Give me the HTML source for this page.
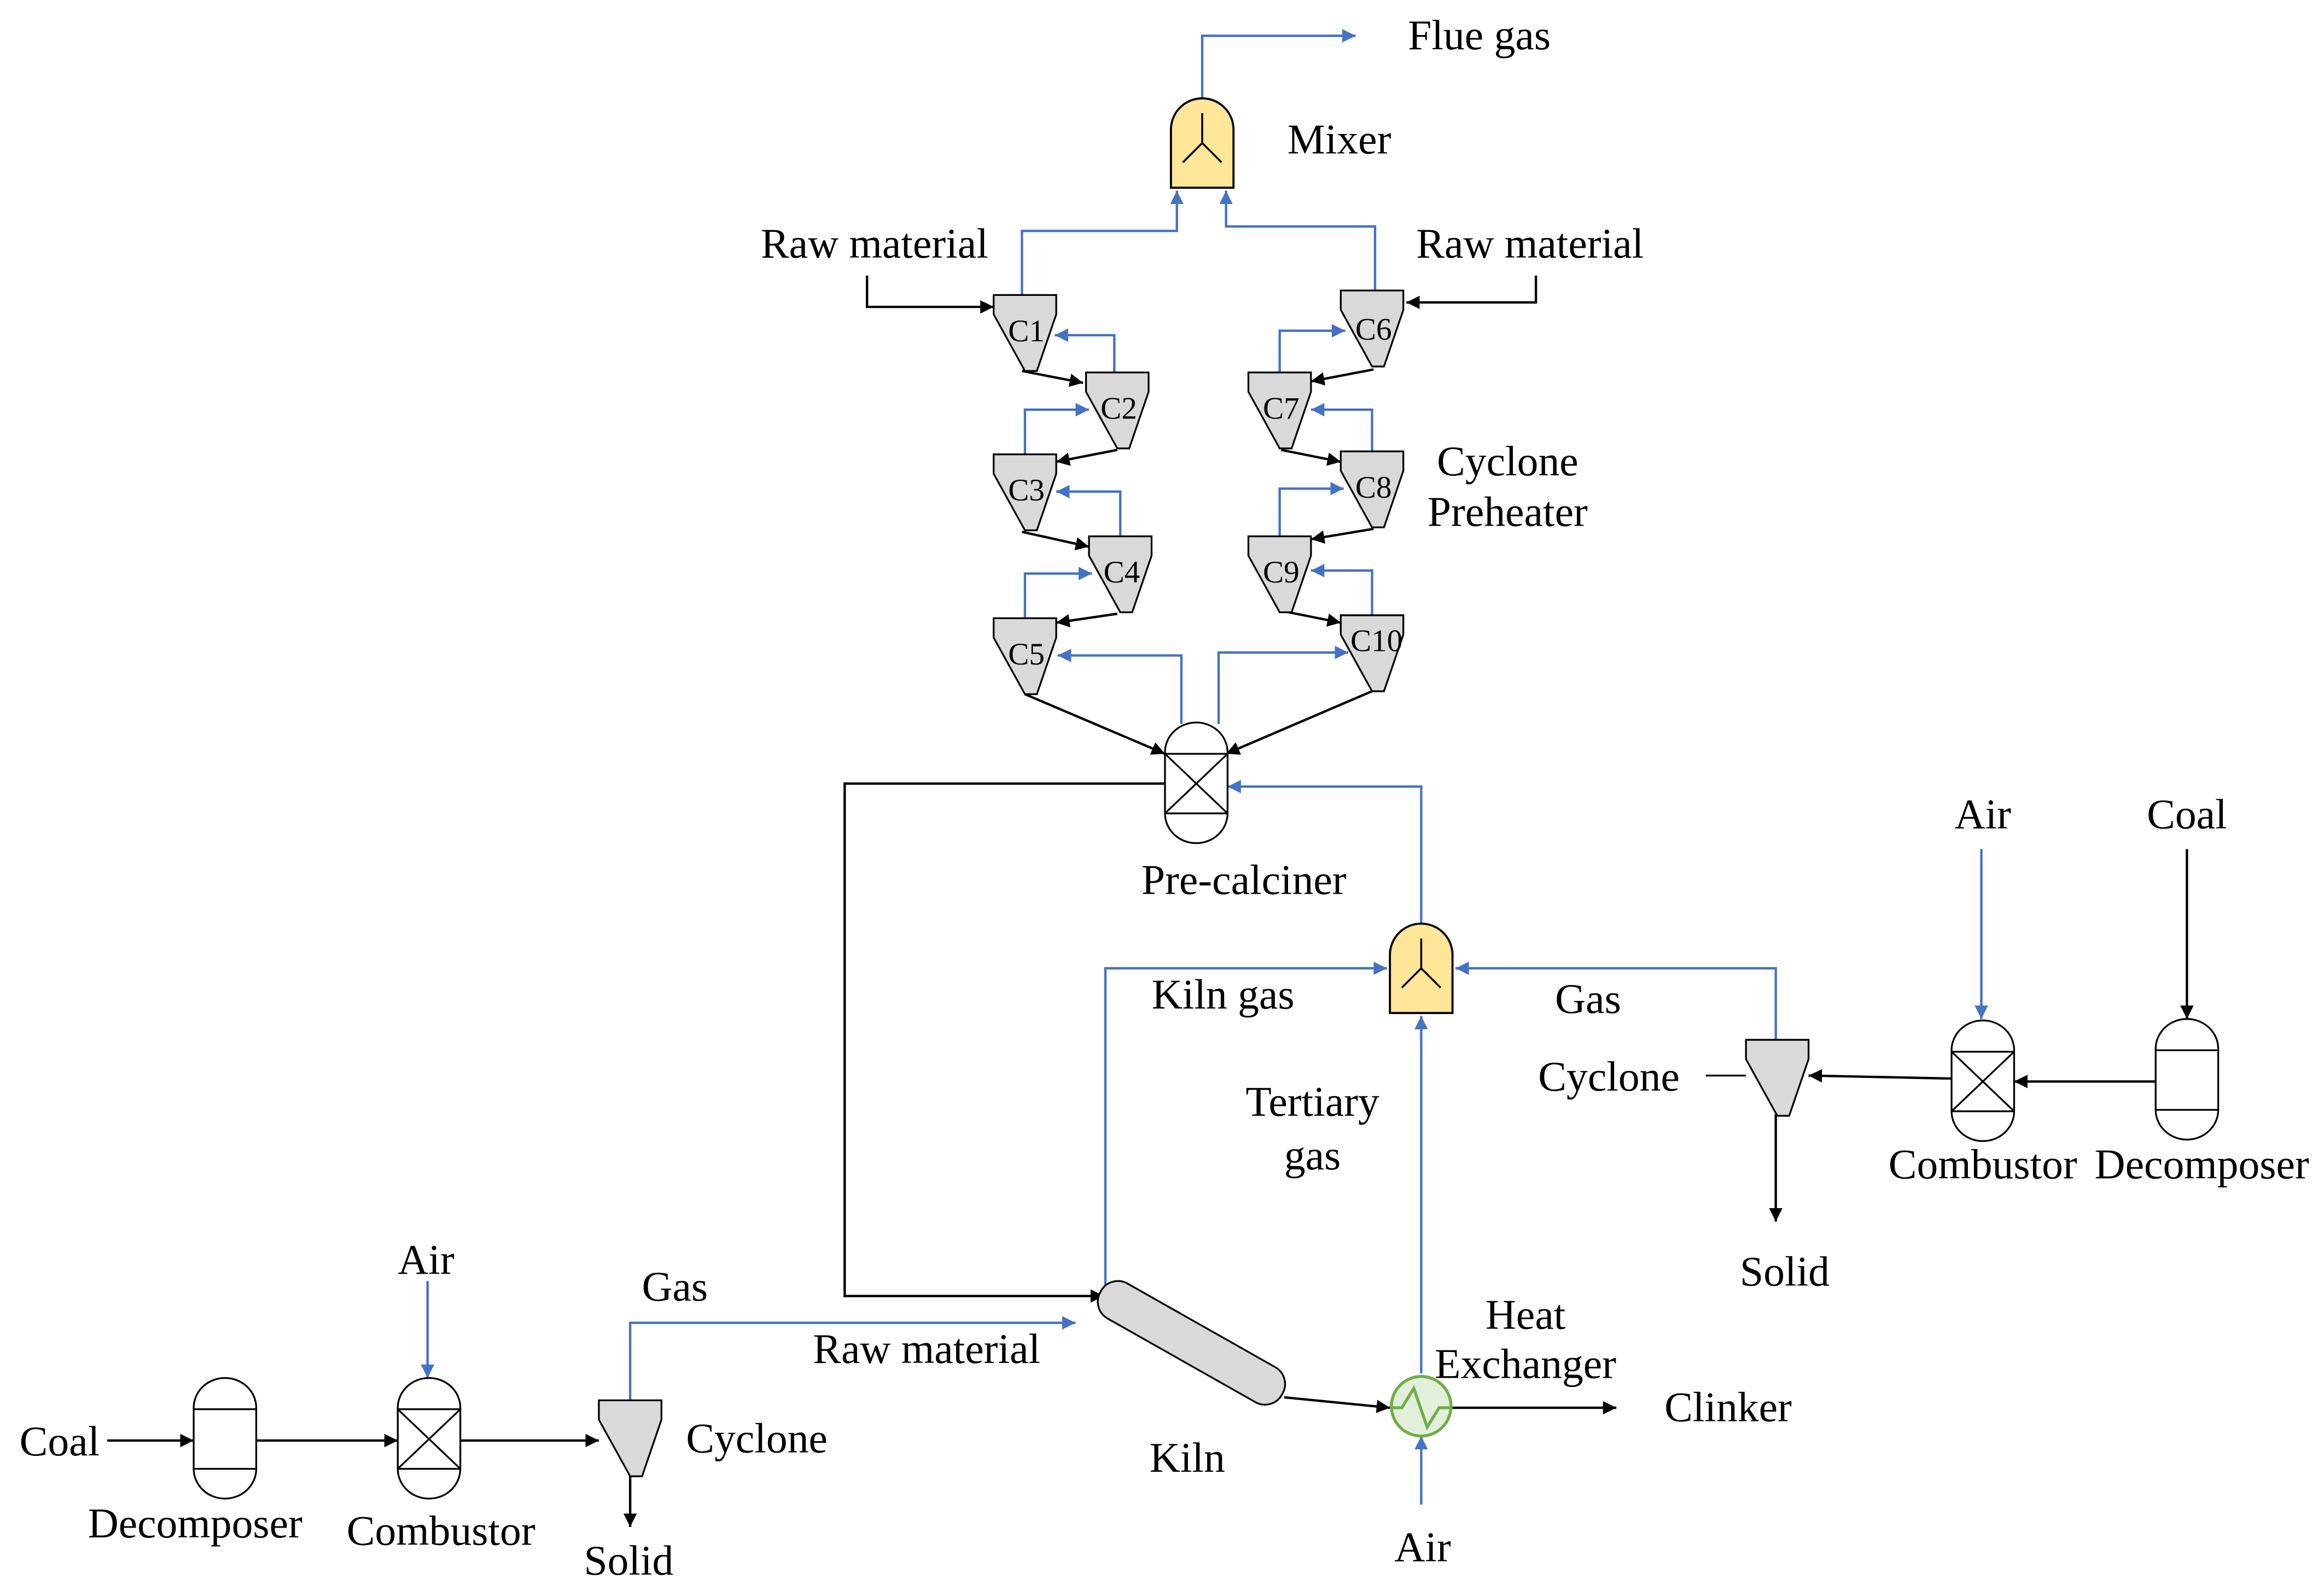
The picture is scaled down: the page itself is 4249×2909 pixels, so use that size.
<!DOCTYPE html>
<html><head><meta charset="utf-8"><style>html,body{margin:0;padding:0;background:#fff}svg{display:block}text{font-family:"Liberation Serif","Times New Roman",serif;font-size:28.5px;fill:#000}.c{font-size:21px}</style></head><body>
<svg width="4249" height="2909" viewBox="0 0 1560 1068" xmlns="http://www.w3.org/2000/svg">
<defs>
<marker id="ab" viewBox="0 0 10 10" refX="10" refY="5" markerWidth="9" markerHeight="9" markerUnits="userSpaceOnUse" orient="auto"><path d="M0,0L10,5L0,10z" fill="#000"/></marker>
<marker id="au" viewBox="0 0 10 10" refX="10" refY="5" markerWidth="9" markerHeight="9" markerUnits="userSpaceOnUse" orient="auto"><path d="M0,0L10,5L0,10z" fill="#4472c4"/></marker>
<g id="cy"><path d="M0,0H42V13L29,51H21L0,13Z" fill="#d9d9d9" stroke="#000" stroke-width="1.2"/></g>
<g id="mx"><path d="M0,60V21A21,21 0 0 1 42,21V60Z" fill="#ffe699" stroke="#000" stroke-width="1.4"/><path d="M21,10V30L8,43M21,30L34,43" fill="none" stroke="#000" stroke-width="1.3"/></g>
<g id="vs"><path d="M0,20A21,20 0 0 1 42,20V61A21,20 0 0 1 0,61Z" fill="#fff" stroke="#000" stroke-width="1.2"/><path d="M0,21H42M0,61H42" stroke="#000" stroke-width="1.2"/></g>
<g id="rx"><path d="M0,20A21,20 0 0 1 42,20V61A21,20 0 0 1 0,61Z" fill="#fff" stroke="#000" stroke-width="1.2"/><path d="M0,21H42M0,61H42M0,21L42,61M42,21L0,61" stroke="#000" stroke-width="1.2" fill="none"/></g>
</defs>
<g fill="none" stroke-width="1.6">
<g stroke="#4472c4" marker-end="url(#au)">
<path d="M807,66V24H910"/>
<path d="M686,198V155H790V128"/>
<path d="M923,196V152H823V128"/>
<path d="M748,250V225H708"/>
<path d="M688,305V275H731"/>
<path d="M752,360V330H709"/>
<path d="M688,415V385H733"/>
<path d="M859,250V222H903"/>
<path d="M921,303V275H880"/>
<path d="M859,360V328H902"/>
<path d="M921,413V383H880"/>
<path d="M793,486V440H710"/>
<path d="M818,486V438H905"/>
<path d="M954,622V528H824"/>
<path d="M742,866V650H931"/>
<path d="M1192,698V650H977"/>
<path d="M954,922V682"/>
<path d="M954,1010V964"/>
<path d="M1330,570V684"/>
<path d="M287,860V925"/>
<path d="M423,940V888H722"/>
</g>
<g stroke="#000" marker-end="url(#ab)">
<path d="M582,185V206H667"/>
<path d="M1031,185V203H944"/>
<path d="M686,249L727,257"/>
<path d="M750,302L709,310"/>
<path d="M686,357L731,367"/>
<path d="M750,412L709,418"/>
<path d="M922,248L880,256"/>
<path d="M860,302L900,310"/>
<path d="M922,355L880,362"/>
<path d="M860,410L900,418"/>
<path d="M688,466L782,506"/>
<path d="M921,464L823,506"/>
<path d="M782,526H567V870H741"/>
<path d="M862,938L933,945"/>
<path d="M975,945H1085"/>
<path d="M1192,748V820"/>
<path d="M1310,724L1214,722"/>
<path d="M1447,726H1352"/>
<path d="M1468,570V684"/>
<path d="M72,967H130"/>
<path d="M171,967H267"/>
<path d="M309,967H402"/>
<path d="M423,990V1025"/>
</g>
<path d="M1145,722H1172" stroke="#000" stroke-width="1.2"/>
</g>
<use href="#mx" x="786" y="66"/>
<use href="#mx" x="933" y="620"/>
<use href="#cy" x="667" y="198"/><use href="#cy" x="729" y="250"/><use href="#cy" x="667" y="305"/><use href="#cy" x="731" y="360"/><use href="#cy" x="667" y="415"/>
<use href="#cy" x="900" y="195"/><use href="#cy" x="838" y="250"/><use href="#cy" x="900" y="303"/><use href="#cy" x="838" y="360"/><use href="#cy" x="900" y="413"/>
<use href="#cy" x="1172" y="698"/>
<use href="#cy" x="402" y="940"/>
<use href="#rx" x="782" y="485"/>
<use href="#rx" x="1310" y="685"/>
<use href="#vs" x="1447" y="684"/>
<use href="#vs" x="130" y="925"/>
<use href="#rx" x="267" y="925"/>
<rect x="730" y="888" width="140" height="27" rx="13" fill="#d9d9d9" stroke="#000" stroke-width="1.2" transform="rotate(29.5 800 901)"/>
<circle cx="954" cy="944" r="20" fill="#e2efda" stroke="#70ad47" stroke-width="2"/>
<path d="M934,945H941L949,932L958,958L966,945H974" fill="none" stroke="#70ad47" stroke-width="2"/>
<g text-anchor="middle">
<text class="c" x="689" y="229">C1</text><text class="c" x="751" y="281">C2</text><text class="c" x="689" y="336">C3</text><text class="c" x="753" y="391">C4</text><text class="c" x="689" y="446">C5</text>
<text class="c" x="922" y="228">C6</text><text class="c" x="860" y="281">C7</text><text class="c" x="922" y="334">C8</text><text class="c" x="860" y="391">C9</text><text class="c" x="924" y="437">C10</text>
</g>
<g text-anchor="middle">
<text x="993" y="33">Flue gas</text>
<text x="899" y="103">Mixer</text>
<text x="587" y="173">Raw material</text>
<text x="1027" y="173">Raw material</text>
<text x="1012" y="319">Cyclone</text>
<text x="1012" y="353">Preheater</text>
<text x="835" y="600">Pre-calciner</text>
<text x="1331" y="556">Air</text>
<text x="1468" y="556">Coal</text>
<text x="821" y="677">Kiln gas</text>
<text x="1066" y="680">Gas</text>
<text x="1080" y="732">Cyclone</text>
<text x="881" y="749">Tertiary</text>
<text x="881" y="785">gas</text>
<text x="1331" y="791">Combustor</text>
<text x="1478" y="791">Decomposer</text>
<text x="1198" y="863">Solid</text>
<text x="286" y="855">Air</text>
<text x="453" y="873">Gas</text>
<text x="1024" y="892">Heat</text>
<text x="1024" y="925">Exchanger</text>
<text x="622" y="915">Raw material</text>
<text x="1160" y="954">Clinker</text>
<text x="40" y="977">Coal</text>
<text x="508" y="975">Cyclone</text>
<text x="797" y="988">Kiln</text>
<text x="131" y="1032">Decomposer</text>
<text x="296" y="1037">Combustor</text>
<text x="955" y="1048">Air</text>
<text x="422" y="1057">Solid</text>
</g>
</svg>
</body></html>
